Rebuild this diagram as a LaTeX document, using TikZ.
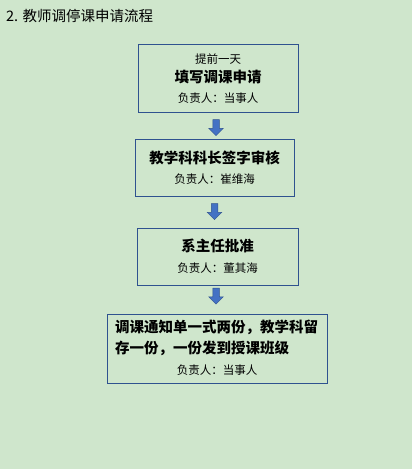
\documentclass[tikz,border=0pt]{standalone}
\usepackage{fontspec}
\setmainfont{Noto Sans CJK SC}
\usetikzlibrary{shapes.arrows}
\definecolor{bg}{RGB}{207,230,204}
\definecolor{boxline}{RGB}{47,82,143}
\definecolor{arrowfill}{RGB}{68,114,196}
\definecolor{arrowline}{RGB}{47,82,143}
\tikzset{
  stepbox/.style={draw=boxline, line width=0.9pt, inner sep=0pt},
  downarrow/.style={shape=single arrow, rotate=-90, fill=arrowfill, draw=arrowline, line width=0.5pt,
    inner sep=3pt, minimum height=16pt, single arrow head extend=4pt, single arrow head indent=0pt},
  bigtxt/.style={inner sep=0pt, font=\fontsize{14.5}{17}\selectfont\bfseries},
  smalltxt/.style={inner sep=0pt, font=\fontsize{11.5}{14}\selectfont},
  titletxt/.style={inner sep=0pt, anchor=west, font=\fontsize{14.5}{17}\selectfont}
}
\begin{document}
\begin{tikzpicture}[x=1pt,y=-1pt]
\fill[bg] (0,0) rectangle (412,469);
\useasboundingbox (0,0) rectangle (412,469);
\node[titletxt] (title) at (6,16) {2. 教师调停课申请流程};
% boxes
\node[stepbox, minimum width=160pt, minimum height=68pt] (b1) at (218,78) {};
\node[stepbox, minimum width=159pt, minimum height=57pt] (b2) at (214.5,167.5) {};
\node[stepbox, minimum width=161pt, minimum height=57pt] (b3) at (217.5,256.5) {};
\node[stepbox, minimum width=220pt, minimum height=69pt] (b4) at (217,348.5) {};
% texts
\node[smalltxt] (t1a) at (218,59) {提前一天};
\node[bigtxt] (t1b) at (218,77.5) {填写调课申请};
\node[smalltxt] (t1c) at (218,98.5) {负责人：当事人};
\node[bigtxt] (t2a) at (214.5,158) {教学科科长签字审核};
\node[smalltxt] (t2b) at (214.5,179.5) {负责人：崔维海};
\node[bigtxt] (t3a) at (217.5,246) {系主任批准};
\node[smalltxt] (t3b) at (217.5,268) {负责人：董其海};
\node[bigtxt, anchor=west] (t4a) at (115,327.5) {调课通知单一式两份，教学科留};
\node[bigtxt, anchor=west] (t4b) at (115,348.5) {存一份，一份发到授课班级};
\node[smalltxt] (t4c) at (217,370) {负责人：当事人};
% arrows
\node[downarrow] (a1) at (216,126) {};
\node[downarrow] (a2) at (214.5,210) {};
\node[downarrow] (a3) at (216,294.5) {};
\end{tikzpicture}
\end{document}
